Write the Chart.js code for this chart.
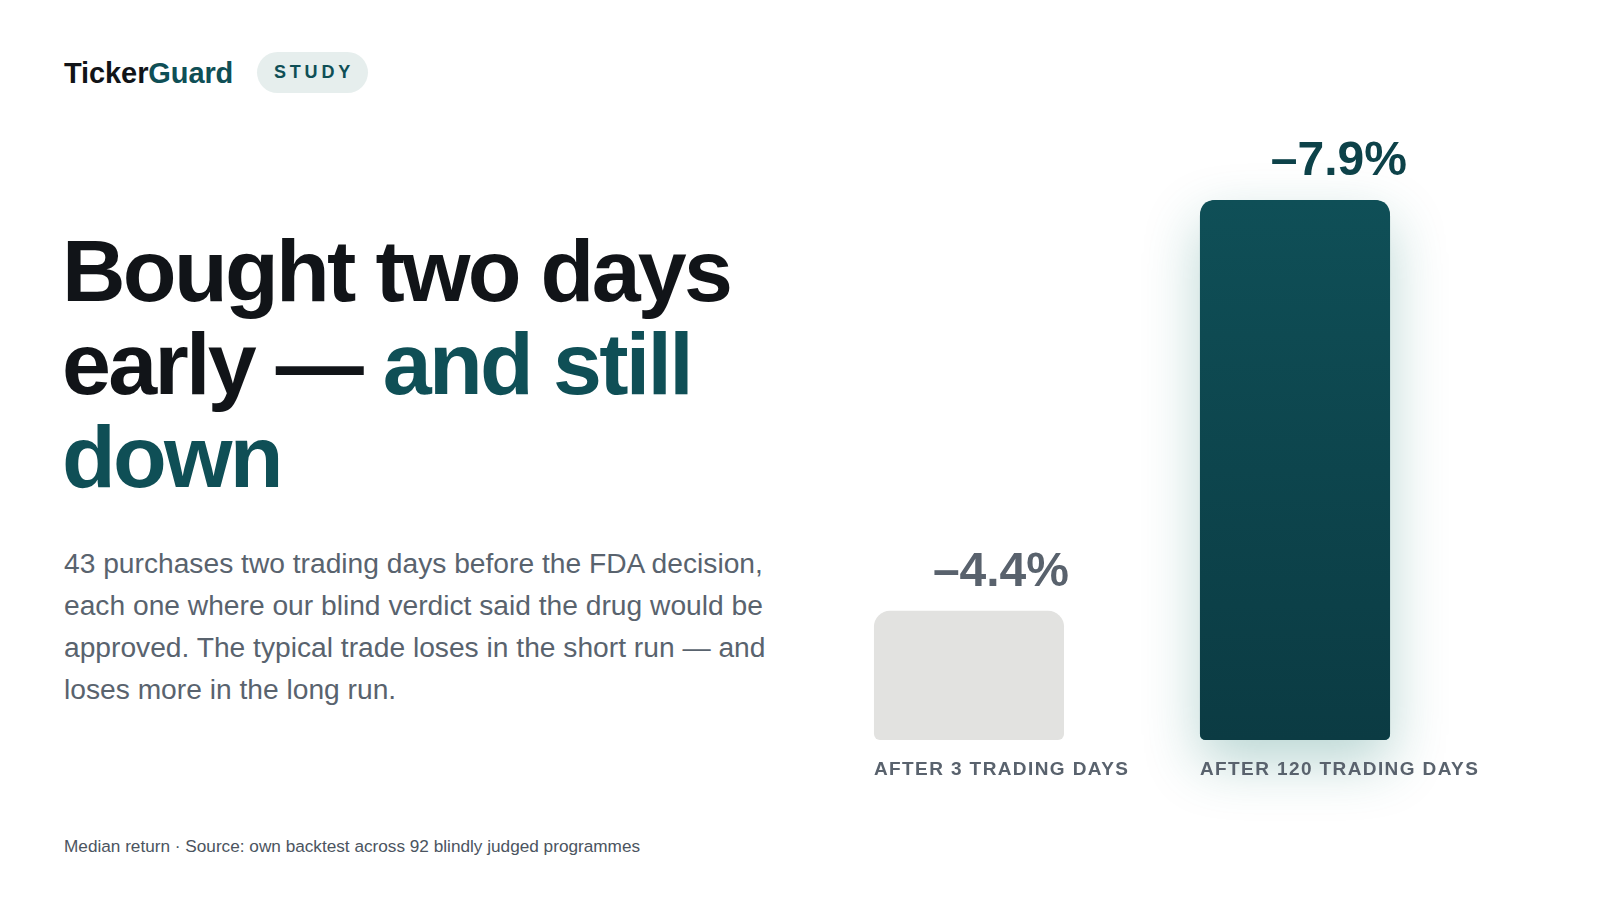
<!DOCTYPE html>
<html>
<head>
<meta charset="utf-8">
<script src="https://cdn.jsdelivr.net/npm/chart.js@4.4.1/dist/chart.umd.min.js"></script>
<style>
  html, body { margin: 0; padding: 0; background: #ffffff; }
  body { width: 1600px; height: 900px; position: relative; overflow: hidden;
         font-family: "Liberation Sans", Arial, sans-serif; }
  .logo { position: absolute; left: 64px; top: 55px; font-size: 29px; font-weight: 700;
          line-height: 36px; letter-spacing: -0.1px; color: #111418; }
  .logo span { color: #0f4f56; }
  .pill { position: absolute; left: 257px; top: 52px; height: 41px; padding: 0 14px 0 17px;
          border-radius: 21px; background: #e6eeed; color: #0f4f56; font-size: 18px;
          font-weight: 700; letter-spacing: 3.8px; line-height: 41px; }
  h1 { position: absolute; left: 62px; top: 224px; margin: 0; width: 760px;
       font-size: 88px; line-height: 93px; font-weight: 700; letter-spacing: -2.7px; color: #111418; }
  h1 span { color: #0f4f56; }
  .lede { position: absolute; left: 64px; top: 542px; margin: 0; font-size: 28.2px; line-height: 42px;
          color: #59636e; }
  .foot { position: absolute; left: 64px; top: 836px; font-size: 17.2px; line-height: 20px; color: #4b5460; }
  #wrap { position: absolute; left: 800px; top: 100px; width: 720px; height: 740px; }
</style>
</head>
<body>
<div class="logo">Ticker<span>Guard</span></div>
<div class="pill">STUDY</div>
<h1>Bought two days<br>early — <span>and still<br>down</span></h1>
<p class="lede">43 purchases two trading days before the FDA decision,<br>each one where our blind verdict said the drug would be<br>approved. The typical trade loses in the short run — and<br>loses more in the long run.</p>
<div class="foot">Median return · Source: own backtest across 92 blindly judged programmes</div>
<div id="wrap"><canvas id="myChart"></canvas></div>

<script>
const categories = ['AFTER 3 TRADING DAYS', 'AFTER 120 TRADING DAYS'];
const medianReturn = [-4.4, -7.9];
const axisRange = [-7.9, -3.3];
const barColors = ['#e2e2e0', '#0f4f56'];
const labelColors = ['#59626d', '#0d4249'];

const fmt = v => '\u2013' + Math.abs(v).toFixed(1) + '%';

function rrect(ctx, x, y, w, h, rt, rb) {
    ctx.beginPath();
    ctx.moveTo(x + rt, y);
    ctx.lineTo(x + w - rt, y);
    ctx.quadraticCurveTo(x + w, y, x + w, y + rt);
    ctx.lineTo(x + w, y + h - rb);
    ctx.quadraticCurveTo(x + w, y + h, x + w - rb, y + h);
    ctx.lineTo(x + rb, y + h);
    ctx.quadraticCurveTo(x, y + h, x, y + h - rb);
    ctx.lineTo(x, y + rt);
    ctx.quadraticCurveTo(x, y, x + rt, y);
    ctx.closePath();
}

// soft teal glow behind the long-run bar
const barGlow = {
    id: 'barGlow',
    beforeDatasetsDraw(chart) {
        const bar = chart.getDatasetMeta(0).data[1];
        const ctx = chart.ctx;
        const w = bar.width;
        ctx.save();
        ctx.shadowColor = 'rgba(22, 120, 108, 0.30)';
        ctx.shadowBlur = 56;
        ctx.shadowOffsetY = 22;
        ctx.fillStyle = '#0f4f56';
        rrect(ctx, bar.x - w / 2, bar.y, w, bar.base - bar.y, 16, 6);
        ctx.fill();
        ctx.restore();
    }
};

const catFont = '700 19px "Liberation Sans", Arial, sans-serif';

const barText = {
    id: 'barText',
    afterDatasetsDraw(chart) {
        const ctx = chart.ctx;
        chart.getDatasetMeta(0).data.forEach((bar, i) => {
            const left = bar.x - bar.width / 2;
            ctx.save();
            ctx.textBaseline = 'alphabetic';
            ctx.font = catFont;
            ctx.letterSpacing = '1.4px';
            const colW = ctx.measureText(categories[i]).width - 1.4;
            ctx.textAlign = 'left';
            ctx.fillStyle = '#59626d';
            ctx.fillText(categories[i], left, bar.base + 35);

            // value sits centred over the label column
            ctx.textAlign = 'center';
            ctx.font = '700 48px "Liberation Sans", Arial, sans-serif';
            ctx.letterSpacing = '0px';
            ctx.fillStyle = labelColors[i];
            ctx.fillText(fmt(medianReturn[i]), left + colW / 2, bar.y - 25);
            ctx.restore();
        });
    }
};

const chart = new Chart(document.getElementById('myChart'), {
    type: 'bar',
    data: {
        labels: categories,
        datasets: [{
            label: 'Median return',
            data: medianReturn,
            base: axisRange[1],
            backgroundColor: (c) => {
                if (c.dataIndex !== 1) return barColors[0];
                const area = c.chart.chartArea;
                if (!area) return barColors[1];
                const g = c.chart.ctx.createLinearGradient(0, area.top, 0, area.bottom);
                g.addColorStop(0, '#0f4f57');
                g.addColorStop(1, '#0b3b43');
                return g;
            },
            borderSkipped: false,
            borderRadius: { topLeft: 16, topRight: 16, bottomLeft: 6, bottomRight: 6 },
            barPercentage: 0.583,
            categoryPercentage: 1
        }]
    },
    options: {
        responsive: true,
        maintainAspectRatio: false,
        animation: false,
        layout: {
            padding: { top: 100, bottom: 100, left: 6, right: 62 }
        },
        plugins: {
            legend: { display: false },
            tooltip: { enabled: false }
        },
        scales: {
            x: { display: false },
            y: {
                display: false,
                reverse: true,
                min: axisRange[0],
                max: axisRange[1]
            }
        }
    },
    plugins: [barGlow, barText]
});
</script>
</body>
</html>
